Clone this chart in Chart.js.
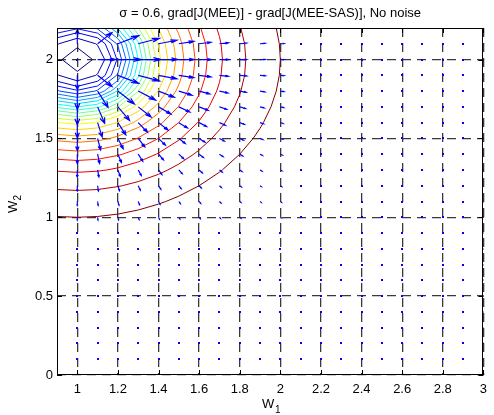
<!DOCTYPE html>
<html>
<head>
<meta charset="utf-8">
<script src="https://cdn.jsdelivr.net/npm/chart.js@4/dist/chart.umd.min.js"></script>
<style>
  html, body { margin: 0; padding: 0; background: #fff; }
  #wrap { width: 494px; height: 415px; }
</style>
</head>
<body>
<div id="wrap"><canvas id="chart" width="494" height="415"></canvas></div>
<script>
// --- data ---
const titleText = 'σ = 0.6, grad[J(MEE)] - grad[J(MEE-SAS)], No noise';
const xTicks = [1, 1.2, 1.4, 1.6, 1.8, 2, 2.2, 2.4, 2.6, 2.8, 3];
const yTicks = [0, 0.5, 1, 1.5, 2];

// optimum (centre of the contours)
const centerW1 = 1;
const centerW2 = 2;

// contour radii, inner (blue) to outer (dark red)
const contourRadii = [0.075, 0.135, 0.17, 0.195, 0.218, 0.24, 0.26, 0.28, 0.30, 0.32, 0.34,
                      0.362, 0.386, 0.41, 0.445, 0.485, 0.525, 0.58, 0.64, 0.715, 0.83, 1.0];

// quiver / contour grid
const gridX = [0.9, 1.0, 1.1, 1.2, 1.3, 1.4, 1.5, 1.6, 1.7, 1.8, 1.9, 2.0,
               2.1, 2.2, 2.3, 2.4, 2.5, 2.6, 2.7, 2.8, 2.9, 3.0];
const gridY = [0, 0.1, 0.2, 0.3, 0.4, 0.5, 0.6, 0.7, 0.8, 0.9, 1.0, 1.1,
               1.2, 1.3, 1.4, 1.5, 1.6, 1.7, 1.8, 1.9, 2.0, 2.1, 2.2];

// arrow length (data units), row = grid steps away from w2=2, column = grid steps away from w1=1
const arrowMag = [
  [0,     0.090, 0.115, 0.112, 0.095, 0.076, 0.060, 0.046, 0.034, 0.025, 0.018],
  [0.090, 0.100, 0.115, 0.110, 0.093, 0.075, 0.059, 0.045, 0.034, 0.025, 0.018],
  [0.115, 0.115, 0.115, 0.103, 0.087, 0.070, 0.055, 0.043, 0.032, 0.024, 0.017],
  [0.112, 0.110, 0.103, 0.090, 0.076, 0.063, 0.050, 0.039, 0.030, 0.021, 0.016],
  [0.095, 0.093, 0.087, 0.076, 0.066, 0.054, 0.044, 0.034, 0.026, 0.019, 0.014],
  [0.076, 0.075, 0.070, 0.063, 0.054, 0.045, 0.037, 0.029, 0.022, 0.016, 0.012],
  [0.060, 0.059, 0.055, 0.050, 0.044, 0.037, 0.030, 0.024, 0.018, 0.014, 0.011],
  [0.046, 0.045, 0.043, 0.039, 0.034, 0.029, 0.024, 0.019, 0.015, 0.012, 0.009],
  [0.034, 0.034, 0.032, 0.030, 0.026, 0.022, 0.018, 0.015, 0.012, 0.009, 0.008],
  [0.025, 0.025, 0.024, 0.021, 0.019, 0.016, 0.014, 0.012, 0.009, 0.008, 0.007],
  [0.018, 0.018, 0.017, 0.016, 0.014, 0.012, 0.011, 0.009, 0.008, 0.007, 0.006]
];

// --- helpers ---
function jet(t) {
    const c = f => Math.round(255 * Math.min(1, Math.max(0, 1.5 - Math.abs(4 * t - f))));
    return `rgb(${c(3)},${c(2)},${c(1)})`;
}

// contour as the polygon through the points where the level circle meets the grid lines
function contourPoints(r) {
    const pts = [];
    gridX.forEach(gx => {
        const d = gx - centerW1;
        if (Math.abs(d) <= r) {
            const h = Math.sqrt(r * r - d * d);
            pts.push({ x: gx, y: centerW2 + h }, { x: gx, y: centerW2 - h });
        }
    });
    gridY.forEach(gy => {
        const d = gy - centerW2;
        if (Math.abs(d) <= r) {
            const h = Math.sqrt(r * r - d * d);
            pts.push({ x: centerW1 + h, y: gy }, { x: centerW1 - h, y: gy });
        }
    });
    pts.sort((a, b) => Math.atan2(a.y - centerW2, a.x - centerW1) - Math.atan2(b.y - centerW2, b.x - centerW1));
    pts.push(pts[0]);
    return pts;
}

const contourSets = contourRadii.map((r, k) => ({
    data: contourPoints(r),
    showLine: true,
    borderColor: jet(k / (contourRadii.length - 1)),
    borderWidth: 1,
    pointRadius: 0,
    fill: false,
    tension: 0,
    clip: 0
}));

const FONT = "'Liberation Sans', Arial, Helvetica, sans-serif";

const quiverPlugin = {
    id: 'quiver',
    afterDatasetsDraw(chart) {
        const { ctx, chartArea: a, scales: { x, y } } = chart;
        const alpha = 0.33, beta = 0.33;
        ctx.save();
        ctx.beginPath();
        ctx.rect(a.left, a.top, a.right - a.left, a.bottom - a.top);
        ctx.clip();
        ctx.strokeStyle = '#0000ff';
        ctx.fillStyle = '#0000ff';
        ctx.lineWidth = 1.2;
        gridY.forEach(gy => {
            gridX.forEach(gx => {
                const i = Math.round((gx - centerW1) * 10);
                const j = Math.round((centerW2 - gy) * 10);
                const row = arrowMag[Math.abs(j)];
                const m = row ? row[Math.abs(i)] : undefined;
                const px = x.getPixelForValue(gx), py = y.getPixelForValue(gy);
                if (!m) {
                    ctx.fillRect(Math.round(px) - 1, Math.round(py) - 1, 2, 2);
                    return;
                }
                const d = Math.hypot(i, j);
                const u = m * i / d, v = -m * j / d;
                const tx = gx + u, ty = gy + v;
                const h1x = tx - alpha * (u + beta * v), h1y = ty - alpha * (v - beta * u);
                const h2x = tx - alpha * (u - beta * v), h2y = ty - alpha * (v + beta * u);
                ctx.beginPath();
                ctx.moveTo(px, py);
                ctx.lineTo(x.getPixelForValue(tx), y.getPixelForValue(ty));
                ctx.moveTo(x.getPixelForValue(h1x), y.getPixelForValue(h1y));
                ctx.lineTo(x.getPixelForValue(tx), y.getPixelForValue(ty));
                ctx.lineTo(x.getPixelForValue(h2x), y.getPixelForValue(h2y));
                ctx.stroke();
            });
        });
        ctx.restore();

        // axes box and inward ticks
        ctx.save();
        ctx.strokeStyle = '#000';
        ctx.lineWidth = 1;
        ctx.strokeRect(Math.round(a.left) + 0.5, Math.round(a.top) + 0.5,
                       Math.round(a.right - a.left) - 1, Math.round(a.bottom - a.top) - 1);
        ctx.beginPath();
        xTicks.forEach(v => {
            const p = Math.round(x.getPixelForValue(v)) + 0.5;
            ctx.moveTo(p, a.bottom); ctx.lineTo(p, a.bottom - 5);
            ctx.moveTo(p, a.top); ctx.lineTo(p, a.top + 5);
        });
        yTicks.forEach(v => {
            const p = Math.round(y.getPixelForValue(v)) + 0.5;
            ctx.moveTo(a.left, p); ctx.lineTo(a.left + 5, p);
            ctx.moveTo(a.right, p); ctx.lineTo(a.right - 5, p);
        });
        ctx.stroke();
        ctx.restore();
    },
    afterDraw(chart) {
        const { ctx, chartArea: a } = chart;
        ctx.save();
        ctx.fillStyle = '#000';
        ctx.textBaseline = 'alphabetic';
        ctx.textAlign = 'center';
        ctx.font = `13px ${FONT}`;
        ctx.fillText(titleText, (a.left + a.right) / 2, 17);

        // x label W1
        ctx.textAlign = 'left';
        ctx.font = `13px ${FONT}`;
        ctx.fillText('W', 262, 408);
        ctx.font = `10px ${FONT}`;
        ctx.fillText('1', 275, 413);

        // y label W2
        ctx.translate(17, 213);
        ctx.rotate(-Math.PI / 2);
        ctx.font = `13px ${FONT}`;
        ctx.fillText('W', 0, 0);
        ctx.font = `10px ${FONT}`;
        ctx.fillText('2', 12.5, 4);
        ctx.restore();
    }
};

const gridStyle = { color: '#3a3a3a', lineWidth: 1.3, drawTicks: false };
const borderStyle = { display: false, dash: [9, 6] };
const tickFont = { family: FONT, size: 13 };

new Chart(document.getElementById('chart'), {
    type: 'scatter',
    data: { datasets: contourSets },
    options: {
        responsive: false,
        animation: false,
        devicePixelRatio: 1,
        layout: { padding: { top: 28, right: 5, left: 0, bottom: 0 } },
        plugins: { legend: { display: false }, tooltip: { enabled: false }, title: { display: false } },
        events: [],
        scales: {
            x: {
                type: 'linear', min: 0.9, max: 3,
                afterBuildTicks: s => { s.ticks = xTicks.map(v => ({ value: v })); },
                afterFit: s => { s.height = 40; },
                grid: gridStyle,
                border: borderStyle,
                ticks: { color: '#000', font: tickFont, padding: 7, maxRotation: 0, autoSkip: false,
                         callback: v => String(v) }
            },
            y: {
                type: 'linear', min: 0, max: 2.2,
                afterBuildTicks: s => { s.ticks = yTicks.map(v => ({ value: v })); },
                afterFit: s => { s.width = 57; },
                grid: gridStyle,
                border: borderStyle,
                ticks: { color: '#000', font: tickFont, padding: 4, autoSkip: false,
                         callback: v => String(v) }
            }
        }
    },
    plugins: [quiverPlugin]
});
</script>
</body>
</html>
